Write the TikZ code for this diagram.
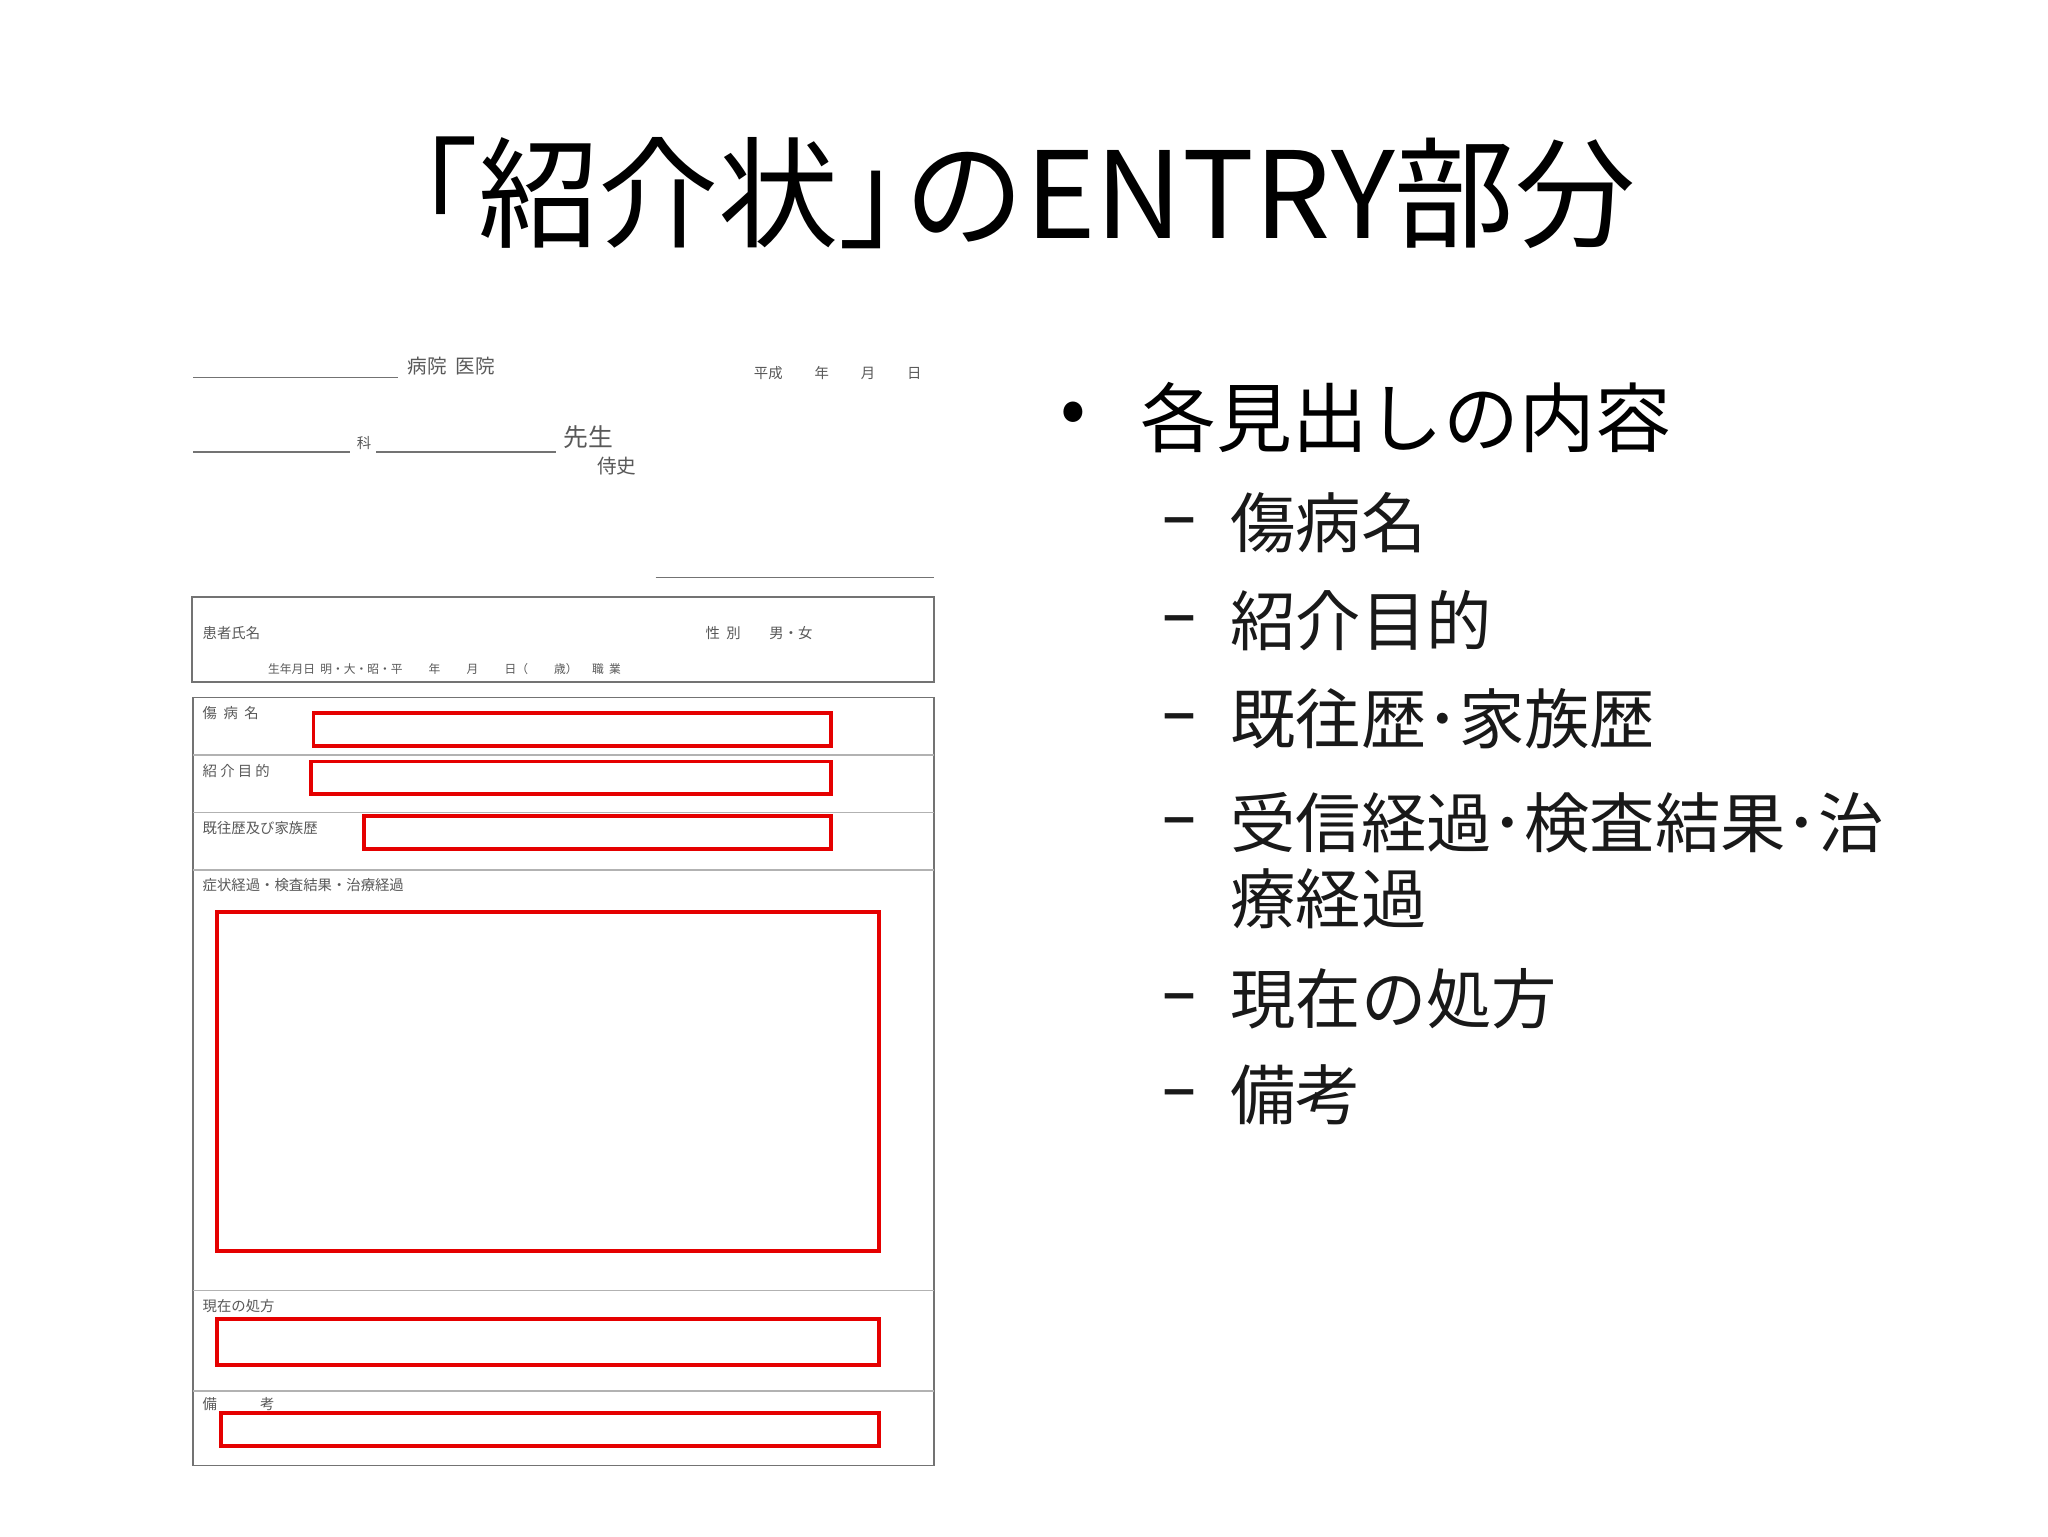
\documentclass[tikz,border=0pt]{standalone}
\usepackage{fontspec}
\setmainfont{Noto Sans CJK JP}
\newfontfamily\dashfont{Noto Sans}
\begin{document}
\begin{tikzpicture}[x=1pt,y=-1pt,
  formtxt/.style={inner sep=0pt,anchor=west,font=\fontsize{11}{12}\selectfont,text=black!65},
  formline/.style={draw=black!55,line width=1pt},
  redbox/.style={draw=red!90!black,line width=3pt},
  item/.style={inner sep=0pt,anchor=west,font=\fontsize{50}{60}\selectfont,text=black!90},
  dashm/.style={inner sep=0pt,anchor=west,font=\dashfont\fontsize{52}{60}\selectfont,text=black!90}]
\useasboundingbox[fill=white] (0,0) rectangle (1568,1176);
% title
\node[inner sep=0pt,font=\fontsize{92}{100}\selectfont] (title) at (763,148) {「紹介状」\kern-0.45em のENTRY部分};
% bullets
\node[inner sep=0pt,anchor=west,font=\fontsize{58}{70}\selectfont] (b) at (812,320) {•};
\node[inner sep=0pt,anchor=west,font=\fontsize{58}{70}\selectfont] (b1) at (873,320) {各見出しの内容};
\foreach \y/\t [count=\i] in {400/傷病名,475/紹介目的,550/既往歴･家族歴,630/受信経過･検査結果･治,765/現在の処方,838/備考}{
  \node[dashm] (d\i) at (890,\y+4) {–};
  \node[item] (s\i) at (942,\y) {\t};
}
\node[item] (s4b) at (942,688) {療経過};
% form header
\draw[formline] (148,289) -- (305,289);
\node[formtxt,font=\fontsize{15}{16}\selectfont] (hosp) at (312,280) {病院\ \ 医院};
\node[formtxt] (date) at (577,286) {平成\qquad\ 年\qquad\ 月\qquad\ 日};
\draw[formline] (148,346) -- (268,346);
\node[formtxt] (ka) at (273,339) {科};
\draw[formline] (288,346) -- (426,346);
\node[formtxt,font=\fontsize{19}{20}\selectfont] (sensei) at (431,335) {先生};
\node[formtxt,font=\fontsize{15}{16}\selectfont] (jishi) at (457,357) {侍史};
\draw[formline] (502,442) -- (715,442);
% patient box
\draw[formline,line width=1.5pt] (147,457) rectangle (715,522);
\node[formtxt] (kanja) at (155,485) {患者氏名};
\node[formtxt] (sei) at (540,485) {性\ \ 別\qquad 男・女};
\node[formtxt,font=\fontsize{9}{10}\selectfont] (birth) at (205,512) {生年月日\ \ 明・大・昭・平\qquad\ 年\qquad\ 月\qquad\ 日（\qquad\ 歳）\quad\ 職\ \ 業};
% main box
\draw[formline,line width=1.5pt] (148,534) rectangle (715,1122);
\foreach \y in {578,622,666,988,1065}{\draw[formline,draw=black!30] (148,\y) -- (715,\y);}
\node[formtxt] (l1) at (155,546) {傷\ \ 病\ \ 名};
\node[formtxt] (l2) at (155,590) {紹\ 介\ 目\ 的};
\node[formtxt] (l3) at (155,634) {既往歴及び家族歴};
\node[formtxt] (l4) at (155,678) {症状経過・検査結果・治療経過};
\node[formtxt] (l5) at (155,1000) {現在の処方};
\node[formtxt] (l6) at (155,1075) {備\qquad\quad 考};
% red boxes
\draw[redbox] (240,546) rectangle (636,571);
\draw[redbox] (238,583) rectangle (636,608);
\draw[redbox] (279,625) rectangle (636,650);
\draw[redbox] (166,698) rectangle (673,958);
\draw[redbox] (166,1010) rectangle (673,1045);
\draw[redbox] (169,1082) rectangle (673,1107);
\end{tikzpicture}
\end{document}
